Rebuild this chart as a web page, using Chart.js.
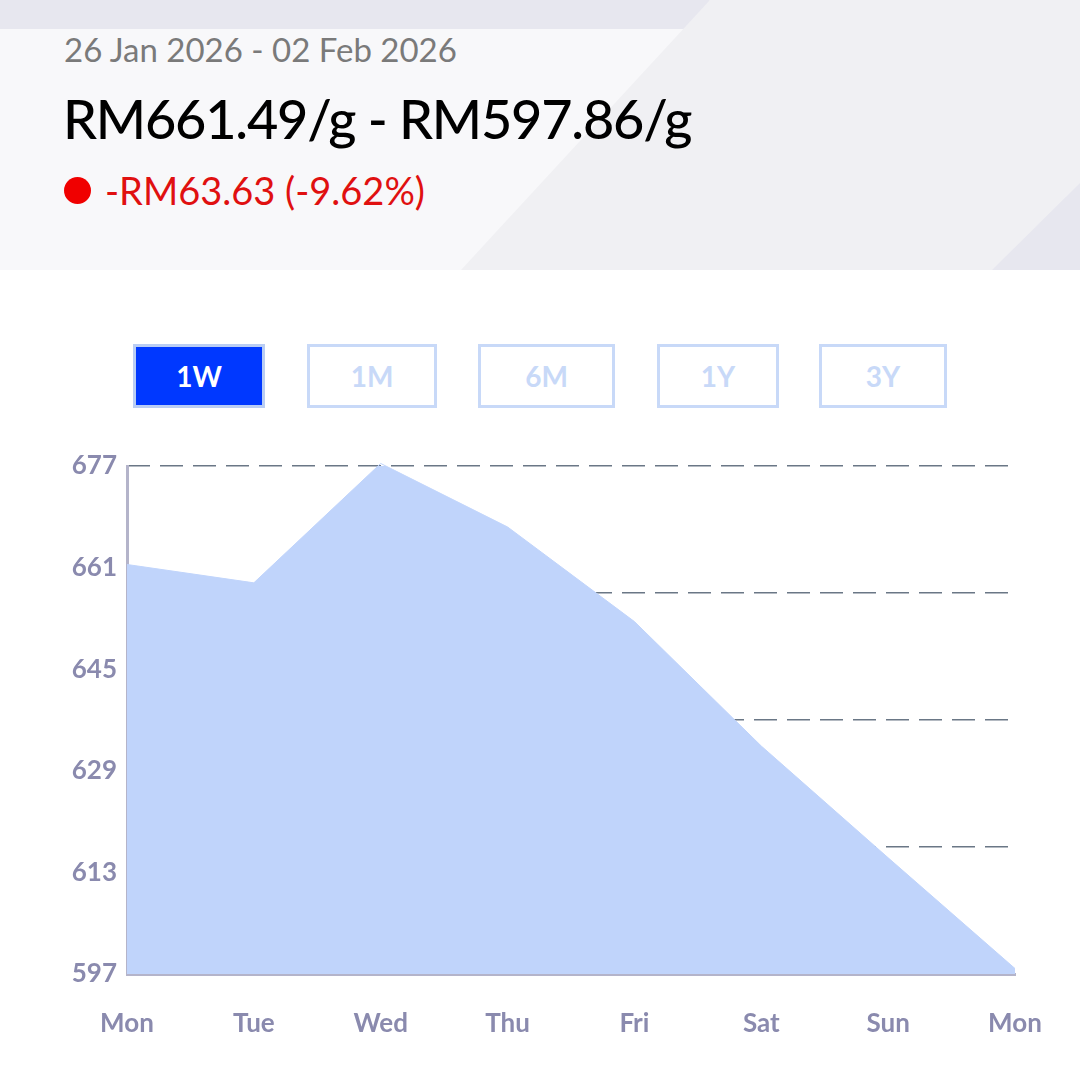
<!DOCTYPE html>
<html>
<head>
<meta charset="utf-8">
<script src="https://cdn.jsdelivr.net/npm/chart.js@4"></script>
<style>
  html, body { margin: 0; padding: 0; }
  body { width: 1080px; height: 1080px; position: relative; overflow: hidden; background: #fff; font-family: Lato, 'Noto Sans', sans-serif; }
  .hdr { position: absolute; left: 0; top: 0; width: 1080px; height: 270px; background: #f8f8fa; overflow: hidden; }
  .band { position: absolute; left: 0; top: 0; width: 1080px; height: 270px; }
  .b1 { background: #e7e7ef; clip-path: polygon(0 0, 710px 0, 696px 29px, 0 29px); }
  .b2 { background: #f0f0f3; clip-path: polygon(710px 0, 1080px 0, 1080px 270px, 461px 270px); }
  .b3 { background: #e7e7ef; clip-path: polygon(1080px 183px, 1080px 270px, 992px 270px); }
  .date { position: absolute; left: 64px; top: 29px; font-size: 33px; color: #7a7a7a; }
  .price { position: absolute; left: 63px; top: 86px; font-size: 54px; color: #000; font-weight: 500; letter-spacing: -1.2px; }
  .chg { position: absolute; left: 105px; top: 167px; font-size: 38px; color: #e01010; }
  .dot { position: absolute; left: 64px; top: 177px; width: 27px; height: 27px; border-radius: 50%; background: #f00000; }
  .btn { position: absolute; top: 344px; height: 58px; border: 3px solid #c8d9f8; color: #c8d9f8; font-size: 28px; font-weight: 700; text-align: center; line-height: 58px; }
  .btn.on { background: #0038ff; color: #fff; border-color: #b9cdf4; }
  #wrap { position: absolute; left: 0; top: 420px; width: 1080px; height: 660px; }
</style>
</head>
<body>
<div class="hdr">
  <div class="band b1"></div>
  <div class="band b2"></div>
  <div class="band b3"></div>
  <div class="date">26 Jan 2026 - 02 Feb 2026</div>
  <div class="price">RM661.49/g - RM597.86/g</div>
  <div class="dot"></div>
  <div class="chg">-RM63.63 (-9.62%)</div>
</div>

<div class="btn on" style="left:133px;width:126px;">1W</div>
<div class="btn" style="left:307px;width:124px;">1M</div>
<div class="btn" style="left:478px;width:131px;">6M</div>
<div class="btn" style="left:657px;width:116px;">1Y</div>
<div class="btn" style="left:819px;width:122px;">3Y</div>

<div id="wrap"><canvas id="priceChart"></canvas></div>

<script>
const days = ['Mon', 'Tue', 'Wed', 'Thu', 'Fri', 'Sat', 'Sun', 'Mon'];
const prices = [661.49, 658.6, 677.4, 667.4, 652.5, 632.9, 615.3, 597.86];
const yMin = 597;
const yMax = 677;
const labelStep = 16;
const gridStep = 20;

const ctx = document.getElementById('priceChart').getContext('2d');

const tickFont = { family: 'Lato', size: 26, weight: 'bold' };
const tickColor = '#8a8aae';

const priceChart = new Chart(ctx, {
    type: 'line',
    data: {
        labels: days,
        datasets: [{
            data: prices,
            borderColor: '#c0d4fb',
            backgroundColor: '#c0d4fb',
            borderWidth: 1,
            fill: 'start',
            tension: 0,
            pointRadius: 0,
            clip: false,
        }]
    },
    options: {
        responsive: true,
        maintainAspectRatio: false,
        animation: false,
        layout: { padding: { top: 46, right: 65, left: 0, bottom: 0 } },
        plugins: {
            legend: { display: false },
            tooltip: { enabled: false }
        },
        scales: {
            x: {
                z: 1,
                offset: false,
                grid: { display: false, drawTicks: false },
                border: { color: '#b4b4ca', width: 3 },
                ticks: { color: tickColor, font: tickFont, padding: 34, maxRotation: 0, autoSkip: false },
                afterFit: (scale) => { scale.height = 106; }
            },
            y: {
                z: 1,
                min: yMin,
                max: yMax,
                grid: { display: false, drawTicks: false },
                border: { color: '#b4b4ca', width: 3 },
                ticks: { stepSize: labelStep, color: tickColor, font: tickFont, padding: 10 },
                afterFit: (scale) => { scale.width = 127; }
            },
            y2: {
                position: 'left',
                min: yMin,
                max: yMax,
                grid: {
                    drawTicks: false,
                    color: (c) => c.tick && c.tick.value === yMin ? 'rgba(0,0,0,0)' : '#6a7786',
                    lineWidth: 1.5
                },
                border: { display: false, dash: [23, 10] },
                ticks: { display: false, stepSize: gridStep },
                afterFit: (scale) => { scale.width = 0; }
            }
        }
    }
});
</script>
</body>
</html>
